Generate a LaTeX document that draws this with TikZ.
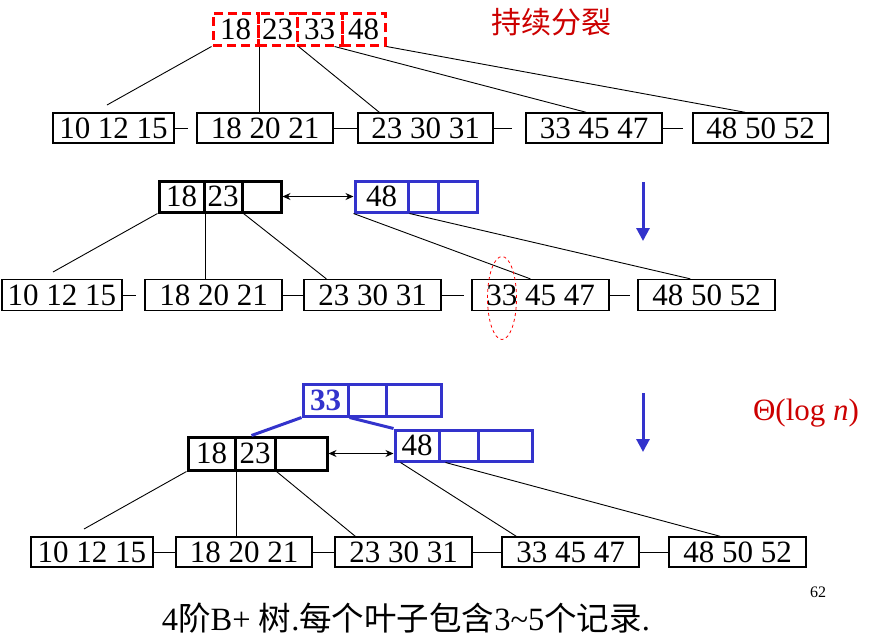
\documentclass[tikz,border=0pt]{standalone}
\usepackage{fontspec}
\setmainfont{Liberation Serif}
\newfontfamily\cjk{Noto Sans CJK SC}
\usetikzlibrary{arrows.meta,calc,shapes.geometric}
\definecolor{tblue}{RGB}{51,51,204}
\definecolor{tred}{RGB}{204,0,0}
\definecolor{dred}{RGB}{255,0,0}
\begin{document}
\begin{tikzpicture}[x=1pt,y=-1pt,
  big/.style={font=\fontsize{31}{36}\selectfont},
  leaf/.style={draw, line width=1.3pt, inner sep=0pt, minimum height=30pt, big},
  dcell/.style={draw=dred, line width=3pt, dash pattern=on 9pt off 5pt, inner sep=0pt, minimum height=32pt, big},
  kcell/.style={draw=black, line width=3pt, inner sep=0pt, big},
  bcell/.style={draw=tblue, line width=3pt, inner sep=0pt, big},
  conn/.style={line width=0.9pt},
  blink/.style={line width=3pt, draw=tblue},
  dbl/.style={line width=0.9pt, {Stealth[length=8pt,width=7pt]}-{Stealth[length=8pt,width=7pt]}},
  barrow/.style={line width=3pt, draw=tblue, -{Triangle[width=13pt,length=13pt]}}
]
\useasboundingbox (0,0) rectangle (871,643);

% ---------- section 1 ----------
\node[dcell, minimum width=45pt] (t1) at (235.5,29) {18};
\node[dcell, minimum width=39pt] (t2) at (277.5,29) {23};
\node[dcell, minimum width=45pt] (t3) at (319.5,29) {33};
\node[dcell, minimum width=43pt] (t4) at (363.5,29) {48};
\node[text=tred, font=\cjk\fontsize{30}{34}\selectfont] (title) at (551,22) {持续分裂};

\node[leaf, minimum width=121pt] (L1a) at (113.5,128) {10 12 15};
\node[leaf, minimum width=136pt] (L1b) at (265,128) {18 20 21};
\node[leaf, minimum width=135pt] (L1c) at (425.5,128) {23 30 31};
\node[leaf, minimum width=136pt] (L1d) at (594,128) {33 45 47};
\node[leaf, minimum width=135pt] (L1e) at (760.5,128) {48 50 52};

\coordinate (f1) at (107,105);
\draw[conn] (t1.south west) -- (f1);
\draw[conn] (t1.south east) -- (t1.south east |- L1b.north);
\draw[conn] (t2.south east) -- ($(L1c.north west)+(22,0)$);
\draw[conn] ($(t3.south east)+(-9,0)$) -- ($(L1d.north west)+(61,0)$);
\draw[conn] (t4.south east) -- ($(L1e.north west)+(53,0)$);

\draw[conn, shorten >=8pt] (L1a.east) -- (L1b.west);
\draw[conn] (L1b.east) -- (L1c.west);
\draw[conn, shorten >=13pt] (L1c.east) -- (L1d.west);
\draw[conn, shorten >=9pt] (L1d.east) -- (L1e.west);

% ---------- section 2 ----------
\node[kcell, minimum width=45pt, minimum height=31pt] (a1) at (181.5,196.5) {18};
\node[kcell, minimum width=38pt, minimum height=31pt] (a2) at (223,196.5) {23};
\node[kcell, minimum width=39pt, minimum height=31pt] (a3) at (261.5,196.5) {};
\node[bcell, minimum width=53pt, minimum height=31pt] (b1) at (381.5,196.5) {48};
\node[bcell, minimum width=30pt, minimum height=31pt] (b2) at (423,196.5) {};
\node[bcell, minimum width=39pt, minimum height=31pt] (b3) at (457.5,196.5) {};
\draw[dbl] (a3.east) -- (b1.west);

\node[leaf, minimum width=120pt, minimum height=31pt] (L2a) at (62,295) {10 12 15};
\node[leaf, minimum width=137pt, minimum height=31pt] (L2b) at (213.5,295) {18 20 21};
\node[leaf, minimum width=137pt, minimum height=31pt] (L2c) at (372.5,295) {23 30 31};
\node[leaf, minimum width=137pt, minimum height=31pt] (L2d) at (540.5,295) {33 45 47};
\node[leaf, minimum width=137pt, minimum height=31pt] (L2e) at (706.5,295) {48 50 52};

\coordinate (f2) at (53,272);
\draw[conn] (a1.south west) -- (f2);
\draw[conn] (a1.south east) -- (a1.south east |- L2b.north);
\draw[conn] (a2.south east) -- ($(L2c.north west)+(23,0)$);
\draw[conn] (b1.south west) -- ($(L2d.north west)+(59,0)$);
\draw[conn] (b1.south east) -- ($(L2e.north west)+(53,0)$);

\draw[conn, shorten >=8pt] (L2a.east) -- (L2b.west);
\draw[conn] (L2b.east) -- (L2c.west);
\draw[conn, shorten >=7pt] (L2c.east) -- (L2d.west);
\draw[conn, shorten >=7pt] (L2d.east) -- (L2e.west);

\node[draw=dred, dashed, line width=0.8pt, ellipse, inner sep=0pt, minimum width=29pt, minimum height=83pt] (mark) at (502,298) {};

\coordinate (ar1s) at (643,182);
\coordinate (ar1e) at (643,241);
\draw[barrow] (ar1s) -- (ar1e);

% ---------- section 3 ----------
\node[bcell, minimum width=45pt, minimum height=32pt, text=tblue, font=\fontsize{31}{36}\selectfont\bfseries] (c1) at (325.5,400) {33};
\node[bcell, minimum width=38pt, minimum height=32pt] (c2) at (367,400) {};
\node[bcell, minimum width=55pt, minimum height=32pt] (c3) at (413.5,400) {};

\node[kcell, minimum width=47pt, minimum height=33pt] (d1) at (211.5,453.5) {18};
\node[kcell, minimum width=40pt, minimum height=33pt] (d2) at (255,453.5) {23};
\node[kcell, minimum width=52pt, minimum height=33pt] (d3) at (301,453.5) {};

\node[bcell, minimum width=44pt, minimum height=31pt] (e1) at (417,445.5) {48};
\node[bcell, minimum width=39pt, minimum height=31pt] (e2) at (458.5,445.5) {};
\node[bcell, minimum width=54pt, minimum height=31pt] (e3) at (505,445.5) {};

\draw[blink] (c1.south west) -- ($(d2.north west)+(18,0)$);
\draw[blink] (c1.south east) -- (e1.north west);
\draw[dbl] (d3.east) -- (d3.east -| e1.west);

\node[leaf, minimum width=122pt] (L3a) at (92,552) {10 12 15};
\node[leaf, minimum width=136pt] (L3b) at (244,552) {18 20 21};
\node[leaf, minimum width=137pt] (L3c) at (403.5,552) {23 30 31};
\node[leaf, minimum width=137pt] (L3d) at (570.5,552) {33 45 47};
\node[leaf, minimum width=137pt] (L3e) at (737.5,552) {48 50 52};

\coordinate (f3) at (84,529);
\draw[conn] (d1.south west) -- (f3);
\draw[conn] (d1.south east) -- (d1.south east |- L3b.north);
\draw[conn] (d2.south east) -- ($(L3c.north west)+(21,0)$);
\draw[conn] ($(e1.south west)+(7,0)$) -- ($(L3d.north west)+(15,0)$);
\draw[conn] ($(e2.south west)+(8,0)$) -- ($(L3e.north west)+(52,0)$);

\draw[conn] (L3a.east) -- (L3b.west);
\draw[conn] (L3b.east) -- (L3c.west);
\draw[conn] (L3c.east) -- (L3d.west);
\draw[conn] (L3d.east) -- (L3e.west);

\coordinate (ar2s) at (643,393);
\coordinate (ar2e) at (643,452);
\draw[barrow] (ar2s) -- (ar2e);

\node[text=tred, big] (theta) at (806,413) {Θ(log \textit{n})};
\node[font=\fontsize{16}{18}\selectfont] (pg) at (818,592) {62};
\node[font=\fontsize{32.5}{36}\selectfont] (cap) at (406,618) {4{\cjk 阶}B+ {\cjk 树}.{\cjk 每个叶子包含}3\textasciitilde5{\cjk 个记录}.};
\end{tikzpicture}
\end{document}
